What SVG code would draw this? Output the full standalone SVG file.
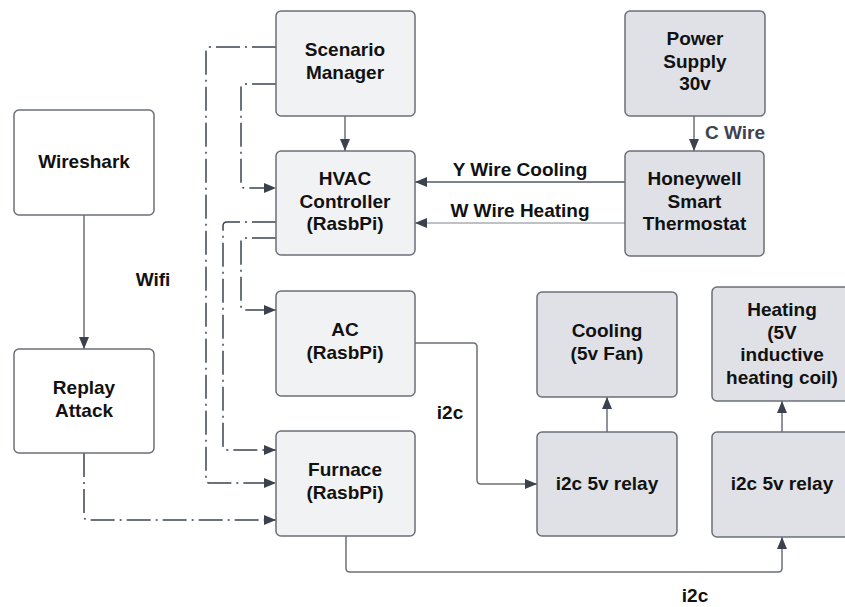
<svg xmlns="http://www.w3.org/2000/svg" width="845" height="607" viewBox="0 0 845 607">
<style>
  .lt { fill: #f1f2f4; stroke: #6b6f78; stroke-width: 1.5; }
  .dk { fill: #dfe1e6; stroke: #6b6f78; stroke-width: 1.5; }
  .wh { fill: #ffffff; stroke: #6b6f78; stroke-width: 1.5; }
  text { font-family: "Liberation Sans", Arial, sans-serif; font-weight: bold; font-size: 19px; fill: #111111; text-anchor: middle; }
  .lbl { fill: #111111; }
  .lblg { fill: #3d4450; }
  .dd { fill: none; stroke: #3d4450; stroke-width: 1.5; stroke-dasharray: 24 5 2 5; }
  .sl { fill: none; stroke: #6b6f78; stroke-width: 1.5; }
  .sd { fill: none; stroke: #555b66; stroke-width: 1.5; }
  .sg { fill: none; stroke: #a8acb3; stroke-width: 1.5; }
</style>
<defs>
  <marker id="arr" markerUnits="userSpaceOnUse" markerWidth="13" markerHeight="10" refX="12" refY="5" orient="auto">
    <path d="M0,0 L12,5 L0,10 z" fill="#3b424e"/>
  </marker>
</defs>
<rect width="845" height="607" fill="#ffffff"/>

<g id="connectors">
  <!-- dash-dot -->
  <path class="dd" d="M276,47 L210,47 Q206,47 206,51 L206,479 Q206,483 210,483 L276,483" marker-end="url(#arr)"/>
  <path class="dd" d="M276,84 L245,84 Q241,84 241,88 L241,184 Q241,188 245,188 L276,188" marker-end="url(#arr)"/>
  <path class="dd" d="M276,222 L227,222 Q223,222 223,226 L223,446 Q223,450 227,450 L276,450" marker-end="url(#arr)"/>
  <path class="dd" d="M276,238 L245,238 Q241,238 241,242 L241,306 Q241,310 245,310 L276,310" marker-end="url(#arr)"/>
  <path class="dd" d="M84,453 L84,516 Q84,520 88,520 L276,520" marker-end="url(#arr)"/>
  <!-- solid -->
  <path class="sl" d="M345,116 L345,151" marker-end="url(#arr)"/>
  <path class="sl" d="M694,116 L694,151" marker-end="url(#arr)"/>
  <path class="sd" d="M625,182 L415,182" marker-end="url(#arr)"/>
  <path class="sg" d="M625,223 L415,223" marker-end="url(#arr)"/>
  <path class="sl" d="M84,215 L84,349" marker-end="url(#arr)"/>
  <path class="sl" d="M415,343 L473,343 Q477,343 477,347 L477,480 Q477,484 481,484 L537,484" marker-end="url(#arr)"/>
  <path class="sl" d="M346,536 L346,568 Q346,572 350,572 L778,572 Q782,572 782,568 L782,537" marker-end="url(#arr)"/>
  <path class="sl" d="M607,432 L607,397" marker-end="url(#arr)"/>
  <path class="sl" d="M782,432 L782,401" marker-end="url(#arr)"/>
  <!-- labels -->
  <text class="lbl" x="520" y="176">Y Wire Cooling</text>
  <text class="lbl" x="520" y="217">W Wire Heating</text>
  <text class="lblg" x="735" y="139">C Wire</text>
  <text class="lbl" x="153" y="286">Wifi</text>
  <text class="lbl" x="450" y="419">i2c</text>
  <text class="lbl" x="695" y="602">i2c</text>
</g>

<g id="wireshark">
  <rect class="wh" x="14" y="110" width="140" height="105" rx="5"/>
  <text x="84" y="168">Wireshark</text>
</g>
<g id="replay-attack">
  <rect class="wh" x="14" y="349" width="140" height="104" rx="5"/>
  <text x="84" y="394">Replay</text>
  <text x="84" y="417">Attack</text>
</g>
<g id="scenario-manager">
  <rect class="lt" x="276" y="11" width="139" height="105" rx="5"/>
  <text x="345" y="56">Scenario</text>
  <text x="345" y="78.5">Manager</text>
</g>
<g id="hvac-controller">
  <rect class="lt" x="276" y="151" width="139" height="104" rx="5"/>
  <text x="345" y="185">HVAC</text>
  <text x="345" y="207.5">Controller</text>
  <text x="345" y="230">(RasbPi)</text>
</g>
<g id="ac">
  <rect class="lt" x="276" y="291" width="139" height="105" rx="5"/>
  <text x="345" y="336">AC</text>
  <text x="345" y="358.5">(RasbPi)</text>
</g>
<g id="furnace">
  <rect class="lt" x="276" y="431" width="139" height="105" rx="5"/>
  <text x="345" y="476">Furnace</text>
  <text x="345" y="498.5">(RasbPi)</text>
</g>
<g id="power-supply">
  <rect class="dk" x="625" y="11" width="140" height="105" rx="5"/>
  <text x="695" y="45">Power</text>
  <text x="695" y="67.5">Supply</text>
  <text x="695" y="90">30v</text>
</g>
<g id="honeywell-thermostat">
  <rect class="dk" x="625" y="151" width="139" height="105" rx="5"/>
  <text x="694.5" y="185">Honeywell</text>
  <text x="694.5" y="207.5">Smart</text>
  <text x="694.5" y="230">Thermostat</text>
</g>
<g id="cooling">
  <rect class="dk" x="537" y="292" width="140" height="105" rx="5"/>
  <text x="607" y="337">Cooling</text>
  <text x="607" y="359.5">(5v Fan)</text>
</g>
<g id="heating">
  <rect class="dk" x="712" y="287" width="140" height="114" rx="5"/>
  <text x="782" y="316">Heating</text>
  <text x="782" y="338.5">(5V</text>
  <text x="782" y="361">inductive</text>
  <text x="782" y="383.5">heating coil)</text>
</g>
<g id="relay-cooling">
  <rect class="dk" x="537" y="432" width="140" height="104" rx="5"/>
  <text x="607" y="490">i2c 5v relay</text>
</g>
<g id="relay-heating">
  <rect class="dk" x="712" y="432" width="140" height="105" rx="5"/>
  <text x="782" y="490">i2c 5v relay</text>
</g>
</svg>
